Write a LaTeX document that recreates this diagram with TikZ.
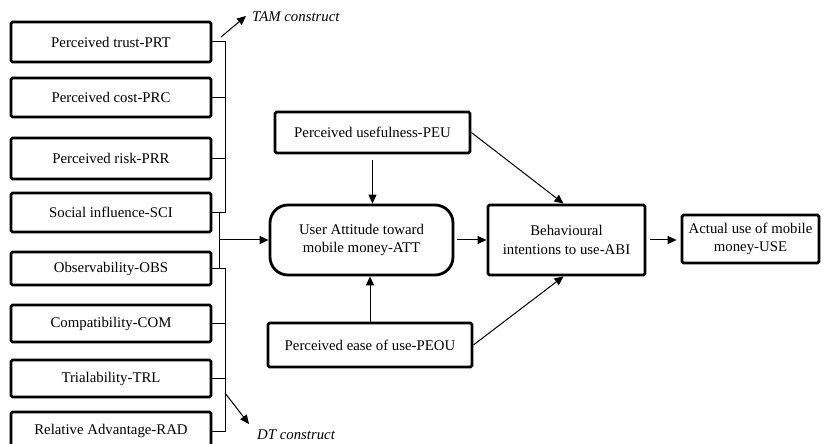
\documentclass[tikz,border=0pt]{standalone}
\usepackage{fontspec}
\setmainfont{Liberation Serif}
\usetikzlibrary{arrows.meta,calc}
\begin{document}
\begin{tikzpicture}[x=1bp,y=-1bp,
  box/.style={draw, line width=2.8bp, inner sep=0pt, align=center,
    font=\fontsize{14.8bp}{18.5bp}\selectfont, rounded corners=1.5bp},
  conn/.style={line width=1bp},
  arr/.style={line width=1bp, -{Triangle[length=9bp,width=8bp]}},
  lbl/.style={font=\fontsize{14.8bp}{18bp}\selectfont\itshape, inner sep=0pt, anchor=west}]
\useasboundingbox (0,0) rectangle (823,444);
% left column
\node[box, minimum width=200bp, minimum height=40bp] (b1) at (111,42) {Perceived trust-PRT};
\node[box, minimum width=200bp, minimum height=39bp] (b2) at (111,97.5) {Perceived cost-PRC};
\node[box, minimum width=200bp, minimum height=41bp] (b3) at (111,158.5) {Perceived risk-PRR};
\node[box, minimum width=200bp, minimum height=39bp] (b4) at (111,212.5) {Social influence-SCI};
\node[box, minimum width=200bp, minimum height=33bp] (b5) at (111,268.5) {Observability-OBS};
\node[box, minimum width=200bp, minimum height=37bp] (b6) at (111,323.5) {Compatibility-COM};
\node[box, minimum width=200bp, minimum height=37bp] (b7) at (111,378.5) {Trialability-TRL};
\node[box, minimum width=200bp, minimum height=38bp] (b8) at (111,431) {Relative Advantage-RAD};
% centre and right
\node[box, minimum width=195bp, minimum height=41bp] (peu) at (372.5,132.5) {Perceived usefulness-PEU};
\node[box, minimum width=183bp, minimum height=70bp, rounded corners=18bp] (att) at (361.5,240) {User Attitude toward\\mobile money-ATT};
\node[box, minimum width=204bp, minimum height=44bp] (peou) at (370,345) {Perceived ease of use-PEOU};
\node[box, minimum width=157bp, minimum height=70bp] (abi) at (566.5,240) {Behavioural\\intentions to use-ABI};
\node[box, minimum width=137bp, minimum height=48bp] (use) at (750.5,239) {Actual use of mobile\\money-USE};
% labels
\node[lbl] (tam) at (252,17) {TAM construct};
\node[lbl] (dt) at (257,434.5) {DT construct};
% bracket coordinates
\coordinate (tx) at (225,0);
\coordinate (mx) at (219,0);
\coordinate (tam0) at (221,37);
\coordinate (tam1) at (246,16);
\coordinate (dt0) at (225,393);
\coordinate (dt1) at (249,424);
% top bracket
\draw[conn] (b1.east) -- (b1.east -| tx) -- (b4.east -| tx) -- (b4.east);
\draw[conn] (b2.east) -- (b2.east -| tx);
\draw[conn] (b3.east) -- (b3.east -| tx);
% bottom bracket
\draw[conn] (b5.east) -- (b5.east -| tx) -- (b8.east -| tx) -- (b8.east);
\draw[conn] (b6.east) -- (b6.east -| tx);
\draw[conn] (b7.east) -- (b7.east -| tx);
% middle joint
\draw[conn] (b4.east -| mx) -- (b5.east -| mx);
\draw[arr] (mx |- att.west) -- (att.west);
% construct arrows
\draw[arr] (tam0) -- (tam1);
\draw[arr] (dt0) -- (dt1);
% main arrows
\draw[arr, shorten <=6bp] (peu.south) -- (peu.south |- att.north);
\draw[arr] (peou.north) -- (peou.north |- att.south);
\draw[arr, shorten <=3bp] (att.east) -- (abi.west);
\draw[arr, shorten <=4bp, shorten >=4bp] (abi.east) -- (abi.east -| use.west);
\draw[arr] (peu.east) -- ($(abi.north)+(-3,0)$);
\draw[arr] (peou.east) -- ($(abi.south)+(-3,0)$);
\end{tikzpicture}
\end{document}
